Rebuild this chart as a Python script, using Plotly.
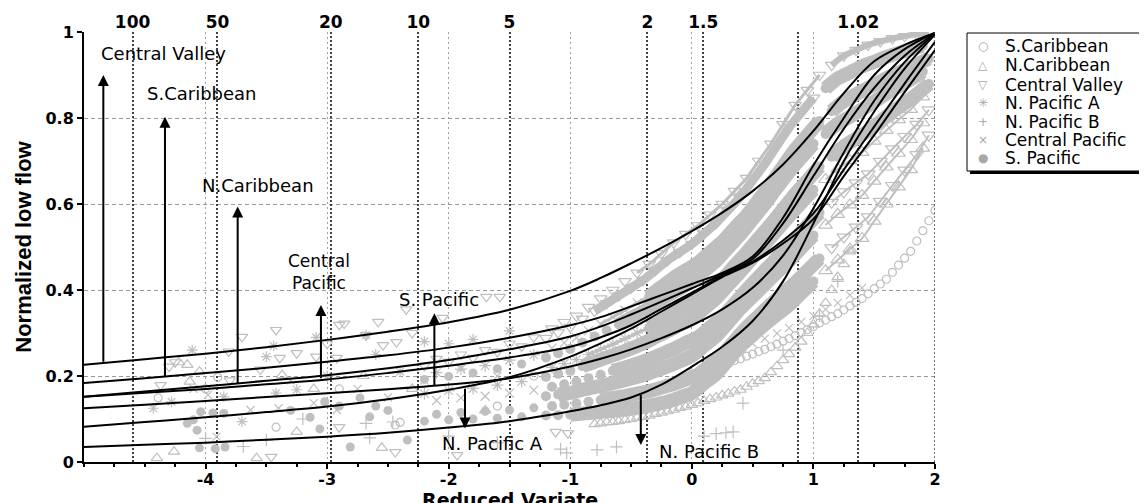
import numpy as np
import plotly.graph_objects as go

GRAY = "#bfbfbf"

# ---------------- fitted regional curves ----------------
curve_x = [-5, -4.5, -4, -3.5, -3, -2.5, -2, -1.5, -1, -0.75, -0.5, -0.25, 0, 0.25, 0.5, 0.75, 1.0, 1.25, 1.5, 1.75, 2.0]
curve_central_valley = [0.226, 0.239, 0.252, 0.267, 0.284, 0.303, 0.325, 0.354, 0.398, 0.428, 0.462, 0.498, 0.537, 0.580, 0.630, 0.692, 0.770, 0.858, 0.932, 0.970, 0.998]
curve_s_caribbean = [0.184, 0.195, 0.207, 0.219, 0.233, 0.248, 0.266, 0.289, 0.318, 0.337, 0.362, 0.388, 0.414, 0.440, 0.478, 0.568, 0.690, 0.800, 0.900, 0.960, 0.998]
curve_n_caribbean = [0.152, 0.164, 0.176, 0.189, 0.202, 0.218, 0.237, 0.262, 0.292, 0.315, 0.343, 0.373, 0.404, 0.436, 0.472, 0.555, 0.665, 0.775, 0.870, 0.945, 0.997]
curve_central_pacific = [0.152, 0.161, 0.170, 0.181, 0.192, 0.207, 0.224, 0.243, 0.268, 0.290, 0.318, 0.356, 0.394, 0.432, 0.466, 0.515, 0.578, 0.680, 0.780, 0.880, 0.977]
curve_s_pacific = [0.125, 0.133, 0.142, 0.151, 0.160, 0.169, 0.180, 0.195, 0.222, 0.240, 0.262, 0.288, 0.318, 0.355, 0.405, 0.480, 0.590, 0.720, 0.840, 0.930, 0.996]
curve_n_pacific_a = [0.082, 0.093, 0.104, 0.116, 0.129, 0.146, 0.168, 0.197, 0.245, 0.276, 0.310, 0.350, 0.390, 0.430, 0.463, 0.508, 0.565, 0.665, 0.760, 0.860, 0.958]
curve_n_pacific_b = [0.035, 0.040, 0.045, 0.052, 0.059, 0.068, 0.080, 0.095, 0.118, 0.132, 0.150, 0.180, 0.222, 0.268, 0.328, 0.420, 0.555, 0.700, 0.815, 0.915, 0.994]

# ---------------- top axis: return periods ----------------
return_periods = [100, 50, 20, 10, 5, 2, 1.5, 1.1, 1.02]
return_labels = ["100", "50", "20", "10", "5", "2", "1.5", "", "1.02"]

# ---------------- observed points: scattered records ----------------
sc_sparse_x = [-4.39, -3.9, -3.42, -2.44, -2.4, -2.9, -1.6, -4.0, -1.3]
sc_sparse_y = [0.149, 0.197, 0.081, 0.086, 0.092, 0.17, 0.13, 0.17, 0.2]
sc_chain_x = [0.0, 0.05, 0.1, 0.15, 0.2, 0.25, 0.3, 0.35, 0.4, 0.45, 0.5, 0.55, 0.6, 0.65, 0.7, 0.75, 0.8, 0.85, 0.9, 0.95,
              1.0, 1.05, 1.1, 1.15, 1.2, 1.25, 1.3, 1.35, 1.4, 1.45, 1.5, 1.55, 1.6, 1.65, 1.7, 1.75, 1.8, 1.85, 1.9, 1.95, 2.0]
sc_chain_y = [0.205, 0.209, 0.214, 0.218, 0.222, 0.227, 0.231, 0.236, 0.240, 0.246, 0.251, 0.257, 0.262, 0.268, 0.274,
              0.281, 0.287, 0.294, 0.301, 0.308, 0.315, 0.323, 0.330, 0.338, 0.345, 0.354, 0.363, 0.371, 0.380, 0.391,
              0.403, 0.414, 0.425, 0.441, 0.458, 0.474, 0.490, 0.514, 0.538, 0.561, 0.585]

nc_sparse_x = [-4.15, -4.13, -3.37, -4.26, -4.4, -3.58, -3.25, -3.11, -2.55, -4.22, -2.7, -2.3, -1.7, -4.05]
nc_sparse_y = [0.226, 0.187, 0.202, 0.024, 0.009, 0.009, 0.07, 0.17, 0.033, 0.232, 0.2, 0.17, 0.12, 0.21]
nc_chain_x = [-0.8, -0.75, -0.7, -0.65, -0.6, -0.55, -0.5, -0.45, -0.4, -0.35, -0.3, -0.25, -0.2, -0.15, -0.1, -0.05,
              0.0, 0.05, 0.1, 0.15, 0.2, 0.25, 0.3, 0.35, 0.4, 0.45, 0.5, 0.55, 0.6, 0.65, 0.7, 0.75, 0.8, 0.85, 0.9,
              0.95, 1.0, 1.05, 1.1, 1.15, 1.2, 1.25, 1.3]
nc_chain_y = [0.088, 0.090, 0.092, 0.093, 0.095, 0.098, 0.100, 0.103, 0.105, 0.108, 0.112, 0.115, 0.118, 0.122, 0.126,
              0.129, 0.133, 0.137, 0.142, 0.146, 0.150, 0.155, 0.159, 0.164, 0.168, 0.175, 0.182, 0.188, 0.195, 0.209,
              0.223, 0.237, 0.251, 0.266, 0.280, 0.300, 0.320, 0.345, 0.370, 0.400, 0.430, 0.460, 0.490]

cv_sparse_x = [-4.37, -4.25, -4.3, -3.81, -3.7, -3.42, -3.39, -3.25, -3.09, -3.8, -2.9, -2.86, -2.58, -2.68, -2.35,
               -2.92, -2.54, -2.43, -2.3, -1.58, -1.69, -2.05, -3.46, -2.44, -2.9, -1.02, -1.93, -1.12, -3.55, -3.0]
cv_sparse_y = [0.179, 0.232, 0.222, 0.257, 0.291, 0.307, 0.242, 0.253, 0.245, 0.19, 0.319, 0.322, 0.326, 0.295, 0.355,
               0.242, 0.272, 0.279, 0.3, 0.384, 0.384, 0.335, 0.012, 0.023, 0.081, 0.067, 0.016, 0.07, 0.215, 0.275]

npa_sparse_x = [-4.11, -3.44, -4.28, -4.43, -3.85, -3.7, -3.25, -3.42, -3.5, -3.09, -2.68, -2.6, -2.2, -2.0, -1.8, -1.5, -3.0, -2.4]
npa_sparse_y = [0.26, 0.27, 0.14, 0.125, 0.152, 0.094, 0.168, 0.16, 0.245, 0.29, 0.295, 0.25, 0.28, 0.275, 0.285, 0.305, 0.2, 0.21]

npb_sparse_x = [-3.69, -3.5, -2.68, -2.46, -2.65, -1.03, -1.08, -0.78, -0.62, 0.1, 0.2, 0.28, 0.34, -1.6, -2.0,
                0.42, 0.4, 0.89, 0.75, 1.05, 1.2, -4.0, -3.2]
npb_sparse_y = [0.036, 0.051, 0.09, 0.093, 0.056, 0.021, 0.03, 0.028, 0.035, 0.06, 0.066, 0.068, 0.07, 0.045, 0.06,
                0.137, 0.26, 0.39, 0.26, 0.34, 0.42, 0.055, 0.1]

cp_sparse_x = [-3.98, -3.91, -3.63, -3.4, -3.11, -2.92, -4.1, -2.5, -2.2, -1.9, -1.6, -3.3, -2.75]
cp_sparse_y = [0.156, 0.059, 0.121, 0.125, 0.137, 0.121, 0.17, 0.15, 0.19, 0.22, 0.2, 0.19, 0.17]
cp_chain_x = [0.3, 0.4, 0.5, 0.6, 0.7, 0.8, 0.9, 1.0, 1.1, 1.2, 1.3, 1.4]
cp_chain_y = [0.256, 0.265, 0.276, 0.287, 0.299, 0.312, 0.326, 0.340, 0.355, 0.370, 0.388, 0.405]

sp_sparse_x = [-4.04, -4.1, -4.15, -3.85, -3.94, -4.07, -4.05, -3.84, -3.92, -3.14, -3.06, -2.81, -3.02, -2.73,
               -2.65, -2.34, -2.5, -2.6, -2.9, -3.3]
sp_sparse_y = [0.117, 0.098, 0.09, 0.113, 0.114, 0.074, 0.033, 0.035, 0.031, 0.104, 0.077, 0.035, 0.14, 0.149,
               0.105, 0.051, 0.12, 0.13, 0.13, 0.12]

# ---------------- observed points: dense cloud (rows = station record sequences) ----------------
x_left_a = [-2.2, -2.0, -1.8, -1.6, -1.4]
x_left_b = [-2.1, -1.9, -1.7, -1.5, -1.3]
cloud_left_0 = [0.095, 0.098, 0.100, 0.102, 0.105]
cloud_left_1 = [0.111, 0.115, 0.118, 0.121, 0.126]
cloud_left_3 = [0.143, 0.149, 0.153, 0.160, 0.167]
cloud_left_4 = [0.159, 0.166, 0.171, 0.179, 0.187]
cloud_left_6 = [0.192, 0.199, 0.207, 0.217, 0.228]
cloud_left_7 = [0.208, 0.216, 0.224, 0.237, 0.249]
cloud_left_8 = [0.224, 0.233, 0.242, 0.256, 0.269]
cloud_left_9 = [0.240, 0.250, 0.260, 0.275, 0.290]

x_mid_a = [-1.2, -1.1, -1.0, -0.9, -0.8, -0.7, -0.6, -0.5, -0.4, -0.3, -0.2, -0.1, 0.0, 0.1, 0.2, 0.3, 0.4, 0.5,
           0.6, 0.7, 0.8, 0.9, 1.0]
x_mid_b = [-1.15, -1.05, -0.95, -0.85, -0.75, -0.65, -0.55, -0.45, -0.35, -0.25, -0.15, -0.05, 0.05, 0.15, 0.25,
           0.35, 0.45, 0.55, 0.65, 0.75, 0.85, 0.95, 1.05]
cloud_mid_0 = [0.108, 0.109, 0.110, 0.113, 0.115, 0.118, 0.120, 0.124, 0.128, 0.134, 0.140, 0.150, 0.160, 0.183, 0.205, 0.238, 0.270, 0.295, 0.320, 0.343, 0.365, 0.393, 0.420]
cloud_mid_1 = [0.130, 0.133, 0.136, 0.140, 0.144, 0.149, 0.153, 0.159, 0.165, 0.173, 0.181, 0.192, 0.203, 0.226, 0.249, 0.281, 0.313, 0.340, 0.367, 0.392, 0.417, 0.445, 0.473]
cloud_mid_2 = [0.153, 0.157, 0.161, 0.168, 0.174, 0.180, 0.187, 0.194, 0.202, 0.212, 0.222, 0.234, 0.247, 0.270, 0.293, 0.325, 0.357, 0.385, 0.413, 0.441, 0.468, 0.498, 0.527]
cloud_mid_3 = [0.175, 0.181, 0.187, 0.195, 0.203, 0.212, 0.220, 0.229, 0.239, 0.251, 0.263, 0.277, 0.290, 0.313, 0.337, 0.368, 0.400, 0.430, 0.460, 0.490, 0.520, 0.550, 0.580]
cloud_mid_4 = [0.198, 0.205, 0.212, 0.223, 0.233, 0.243, 0.253, 0.264, 0.276, 0.290, 0.304, 0.319, 0.333, 0.357, 0.381, 0.412, 0.443, 0.475, 0.507, 0.539, 0.572, 0.603, 0.633]
cloud_mid_5 = [0.220, 0.229, 0.238, 0.250, 0.262, 0.274, 0.287, 0.300, 0.312, 0.329, 0.346, 0.361, 0.377, 0.401, 0.424, 0.456, 0.487, 0.520, 0.553, 0.588, 0.623, 0.655, 0.687]
cloud_mid_6 = [0.243, 0.253, 0.263, 0.278, 0.292, 0.306, 0.320, 0.335, 0.349, 0.368, 0.387, 0.403, 0.420, 0.444, 0.468, 0.499, 0.530, 0.565, 0.600, 0.638, 0.675, 0.708, 0.740]
cloud_mid_7 = [0.265, 0.277, 0.289, 0.305, 0.321, 0.337, 0.353, 0.370, 0.386, 0.407, 0.428, 0.446, 0.463, 0.488, 0.512, 0.543, 0.573, 0.610, 0.647, 0.687, 0.727, 0.760, 0.793]
cloud_mid_8 = [0.288, 0.301, 0.314, 0.333, 0.351, 0.369, 0.387, 0.405, 0.423, 0.446, 0.469, 0.488, 0.507, 0.531, 0.556, 0.586, 0.617, 0.655, 0.693, 0.736, 0.778, 0.813, 0.847]
cloud_mid_9 = [0.310, 0.325, 0.340, 0.360, 0.380, 0.400, 0.420, 0.440, 0.460, 0.485, 0.510, 0.530, 0.550, 0.575, 0.600, 0.630, 0.660, 0.700, 0.740, 0.785, 0.830, 0.865, 0.900]

x_right_a = [1.1, 1.2, 1.3, 1.4, 1.5, 1.6, 1.7, 1.8, 1.9]
x_right_b = [1.15, 1.25, 1.35, 1.45, 1.55, 1.65, 1.75, 1.85, 1.95]
cloud_right_0 = [0.445, 0.470, 0.495, 0.520, 0.560, 0.600, 0.640, 0.680, 0.730]
cloud_right_1 = [0.498, 0.523, 0.546, 0.570, 0.606, 0.643, 0.679, 0.715, 0.760]
cloud_right_2 = [0.551, 0.576, 0.598, 0.620, 0.653, 0.686, 0.718, 0.750, 0.789]
cloud_right_3 = [0.604, 0.628, 0.649, 0.670, 0.699, 0.728, 0.757, 0.785, 0.819]
cloud_right_4 = [0.657, 0.681, 0.701, 0.720, 0.746, 0.771, 0.796, 0.820, 0.849]
cloud_right_5 = [0.710, 0.734, 0.752, 0.770, 0.792, 0.814, 0.834, 0.855, 0.879]
cloud_right_6 = [0.763, 0.787, 0.803, 0.820, 0.838, 0.857, 0.873, 0.890, 0.908]
cloud_right_7 = [0.816, 0.839, 0.855, 0.870, 0.885, 0.899, 0.912, 0.925, 0.938]
cloud_right_8 = [0.869, 0.892, 0.906, 0.920, 0.931, 0.942, 0.951, 0.960, 0.968]
cloud_right_9 = [0.923, 0.945, 0.958, 0.970, 0.978, 0.985, 0.990, 0.995, 0.998]

fig = go.Figure()

SYMBOL = {
    "S. Pacific": "circle", "S.Caribbean": "circle-open", "N.Caribbean": "triangle-up-open",
    "Central Valley": "triangle-down-open", "N. Pacific A": "asterisk-open", "N. Pacific B": "cross-thin-open",
    "Central Pacific": "x-thin-open",
}


def _trace(name, xs, ys, size, line_w):
    filled = SYMBOL[name] == "circle"
    fig.add_trace(go.Scatter(
        x=list(xs), y=list(ys), mode="lines+markers" if line_w > 0 else "markers",
        name=name, legendgroup=name, showlegend=False, hoverinfo="skip",
        line=dict(color=GRAY, width=line_w, shape="spline", smoothing=0.6),
        marker=dict(symbol=SYMBOL[name], size=size, color=GRAY,
                    line=dict(width=0 if filled else 1.2, color=GRAY))))


def add_records(name, xs, ys, size, line_w=0, start=0):
    """Records of one station sequence; where records are dense they merge into a band."""
    xs, ys = list(xs), list(ys)
    if line_w > 0 and start > 0:
        _trace(name, xs[:start], ys[:start], size, 0)
        _trace(name, xs[start:], ys[start:], size, line_w)
    else:
        _trace(name, xs, ys, size, line_w)


SP_W = 14
# left fringe of the cloud: separate records
add_records("S. Pacific", x_left_a, cloud_left_0, 9)
add_records("S. Pacific", x_left_b, cloud_left_1, 9)
add_records("S. Pacific", x_left_a, cloud_left_6, 9)
add_records("Central Pacific", x_left_b, cloud_left_3, 9)
add_records("N. Pacific A", x_left_a, cloud_left_4, 10)
add_records("N. Pacific A", x_left_b, cloud_left_7, 10)
add_records("Central Valley", x_left_a, cloud_left_8, 10)
add_records("Central Valley", x_left_b, cloud_left_9, 10)

# core of the cloud
add_records("S. Pacific", x_mid_a, cloud_mid_0, 10, SP_W, start=2)
add_records("S. Pacific", x_mid_b, cloud_mid_1, 10, SP_W, start=4)
add_records("S. Pacific", x_mid_a, cloud_mid_2, 10, SP_W, start=1)
add_records("S. Pacific", x_mid_b, cloud_mid_3, 10, SP_W, start=5)
add_records("S. Pacific", x_mid_a, cloud_mid_4, 10, SP_W, start=3)
add_records("S. Pacific", x_mid_a, cloud_mid_6, 10, SP_W, start=6)
add_records("S. Pacific", x_mid_b[8:], cloud_mid_5[8:], 10, SP_W)
add_records("S. Pacific", x_mid_b[8:], cloud_mid_7[8:], 10, SP_W)
add_records("N. Pacific A", x_mid_b[:9], cloud_mid_5[:9], 10, 3, start=3)
add_records("Central Pacific", x_mid_b[:9], cloud_mid_7[:9], 9, 3, start=4)
add_records("Central Valley", x_mid_a, cloud_mid_8, 11, 9, start=4)
add_records("Central Valley", x_mid_b, cloud_mid_9, 11, 3, start=7)

# right part: dense band above the curves, hatched triangles below them
for xs, ys in [(x_right_b, cloud_right_5), (x_right_a, cloud_right_6), (x_right_b, cloud_right_7),
               (x_right_a, cloud_right_8)]:
    add_records("S. Pacific", xs, ys, 10, SP_W)
add_records("Central Valley", x_right_b, cloud_right_9, 11, 6)
for xs, ys in [(x_right_a, cloud_right_0), (x_right_a, cloud_right_2), (x_right_a, cloud_right_4)]:
    add_records("N.Caribbean", xs, ys, 12, 2)
for xs, ys in [(x_right_b, cloud_right_1), (x_right_b, cloud_right_3)]:
    add_records("Central Valley", xs, ys, 12, 2)

# scattered records and record chains
add_records("S. Pacific", sp_sparse_x, sp_sparse_y, 9)
add_records("S.Caribbean", sc_sparse_x + sc_chain_x, sc_sparse_y + sc_chain_y, 8)
add_records("N.Caribbean", nc_sparse_x + nc_chain_x, nc_sparse_y + nc_chain_y, 10)
add_records("Central Valley", cv_sparse_x, cv_sparse_y, 10)
add_records("N. Pacific A", npa_sparse_x, npa_sparse_y, 9)
add_records("N. Pacific B", npb_sparse_x, npb_sparse_y, 9)
add_records("Central Pacific", cp_sparse_x + cp_chain_x, cp_sparse_y + cp_chain_y, 8)

curves = [
    ("Central Valley", curve_central_valley), ("S.Caribbean", curve_s_caribbean),
    ("N.Caribbean", curve_n_caribbean), ("Central Pacific", curve_central_pacific),
    ("S. Pacific", curve_s_pacific), ("N. Pacific A", curve_n_pacific_a), ("N. Pacific B", curve_n_pacific_b),
]
for i, (name, ys) in enumerate(curves):
    fig.add_trace(go.Scatter(
        x=curve_x, y=ys, mode="lines", name=name + " fit", showlegend=False, hoverinfo="skip",
        xaxis="x2" if i == 0 else "x",
        line=dict(color="black", width=2, shape="spline", smoothing=1.0)))

# ---------------- axes ----------------
TICKFONT = dict(family="DejaVu Sans", size=16, color="black", weight="bold")
top_ticks = np.log(-np.log(1 - 1 / np.array(return_periods, dtype=float)))

# the page body has an 8px margin, so the figure is 8px smaller and margins are 8px less
fig.update_layout(
    width=1139, height=495,
    margin=dict(l=76, r=212, t=24, b=41, autoexpand=False),
    paper_bgcolor="white", plot_bgcolor="white", showlegend=False,
    xaxis=dict(
        range=[-5, 2], tickvals=[-4, -3, -2, -1, 0, 1, 2], ticktext=["-4", "-3", "-2", "-1", "0", "1", "2"],
        showgrid=True, gridcolor="#a0a0a0", gridwidth=1, griddash="2px,3px", zeroline=False,
        showline=True, linecolor="black", linewidth=2, ticks="outside", ticklen=5, tickwidth=1.5,
        tickcolor="black", tickfont=TICKFONT, ticklabelstandoff=-3,
        minor=dict(tick0=-5, dtick=0.25, ticks="outside", ticklen=3, tickcolor="black", showgrid=False),
    ),
    xaxis2=dict(
        range=[-5, 2], overlaying="x", side="top", anchor="y",
        tickvals=list(top_ticks), ticktext=return_labels, ticks="",
        showgrid=True, gridcolor="#404040", gridwidth=1.5, griddash="2px,2px", zeroline=False,
        showline=False, tickfont=dict(family="DejaVu Sans", size=17, color="black", weight="bold"),
    ),
    yaxis=dict(
        range=[0, 1], tickvals=[0, 0.2, 0.4, 0.6, 0.8, 1], ticktext=["0", "0.2", "0.4", "0.6", "0.8", "1"],
        showgrid=True, gridcolor="#9a9a9a", gridwidth=1, griddash="4px,3px", zeroline=False,
        showline=True, linecolor="black", linewidth=2, ticks="outside", ticklen=5, tickwidth=1.5,
        tickcolor="black", tickfont=TICKFONT,
        title=dict(text="Normalized low flow",
                   font=dict(family="Liberation Sans, Arial", size=22, color="black", weight="bold"), standoff=8),
    ),
)


def xp(px):
    return (px - 84) / 851.0


def yp(py):
    return (462 - py) / 430.0


# x axis title (sits low at the page edge, as in the original)
fig.add_annotation(x=0.5, y=yp(500), xref="paper", yref="paper", text="Reduced Variate", showarrow=False,
                   font=dict(family="DejaVu Sans", size=19, color="black", weight="bold"),
                   xanchor="center", yanchor="middle")

# right border (dotted)
fig.add_shape(type="line", xref="x", yref="paper", x0=2, x1=2, y0=0, y1=1,
              line=dict(color="#404040", width=1.5, dash="2px,2px"))

# ---------------- region labels and arrows ----------------
LABELFONT = dict(family="DejaVu Sans", size=18, color="black")
label_text = ["Central Valley", "S.Caribbean", "N.Caribbean", "Central<br>Pacific", "S. Pacific", "N. Pacific A", "N. Pacific B"]
label_x = [-4.346, -4.032, -3.567, -3.067, -2.081, -1.640, 0.142]
label_y = [0.951, 0.857, 0.643, 0.443, 0.379, 0.043, 0.024]
for t, lx, ly in zip(label_text, label_x, label_y):
    fig.add_annotation(x=lx, y=ly, xref="x", yref="y", text=t, showarrow=False,
                       font=dict(LABELFONT, size=17) if "<br>" in t else LABELFONT,
                       xanchor="center", yanchor="middle")

arrow_x = [-4.841, -4.334, -3.736, -3.051, -2.118, -1.866, -0.420]
arrow_tail = [0.2295, 0.196, 0.179, 0.191, 0.175, 0.174, 0.160]
arrow_head = [0.900, 0.803, 0.594, 0.365, 0.346, 0.078, 0.0395]
for axx, t0, t1 in zip(arrow_x, arrow_tail, arrow_head):
    fig.add_annotation(x=axx, y=t1, ax=axx, ay=t0, xref="x", yref="y", axref="x", ayref="y",
                       text="", showarrow=True, arrowhead=2, arrowsize=1.1, arrowwidth=2,
                       arrowcolor="black", standoff=0, startstandoff=0)

# ---------------- legend (drawn as a boxed key) ----------------
fig.add_shape(type="rect", xref="paper", yref="paper", x0=xp(970), x1=xp(1210), y0=yp(174), y1=yp(36),
              fillcolor="black", line=dict(width=0), layer="above")
fig.add_shape(type="rect", xref="paper", yref="paper", x0=xp(967), x1=xp(1207), y0=yp(171), y1=yp(33),
              fillcolor="white", line=dict(color="black", width=1), layer="above")

legend_names = ["S.Caribbean", "N.Caribbean", "Central Valley", "N. Pacific A", "N. Pacific B", "Central Pacific", "S. Pacific"]
legend_glyphs = ["○", "△", "▽", "✳", "+", "×", "●"]
legend_rows_px = [46, 65, 85, 103.3, 121.7, 140, 158.3]
for name, g, py in zip(legend_names, legend_glyphs, legend_rows_px):
    fig.add_annotation(x=xp(983), y=yp(py), xref="paper", yref="paper", text=g, showarrow=False,
                       font=dict(family="DejaVu Sans", size=12, color="#a8a8a8"),
                       xanchor="center", yanchor="middle")
    fig.add_annotation(x=xp(1003), y=yp(py), xref="paper", yref="paper", text=name, showarrow=False,
                       font=dict(family="DejaVu Sans", size=17, color="black"),
                       xanchor="left", yanchor="middle")

fig.write_html("out.html")
